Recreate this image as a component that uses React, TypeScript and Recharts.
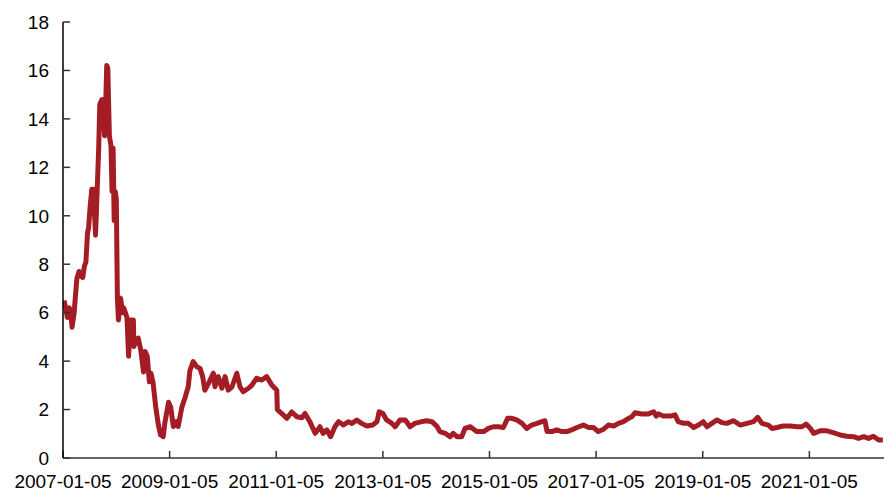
import { LineChart, Line, XAxis, YAxis } from "recharts";

// x positions are fractional years (2007.01 = 2007-01-05)
const years = [
  2007.03, 2007.07, 2007.09, 2007.13, 2007.16, 2007.18, 2007.22, 2007.24, 2007.27, 2007.31,
  2007.35, 2007.38, 2007.41, 2007.44, 2007.47, 2007.49, 2007.52, 2007.55, 2007.58, 2007.62,
  2007.65, 2007.68, 2007.7, 2007.74, 2007.77, 2007.79, 2007.81, 2007.83, 2007.85, 2007.88,
  2007.91, 2007.93, 2007.95, 2007.97, 2007.99, 2008.01, 2008.03, 2008.05, 2008.09, 2008.13,
  2008.15, 2008.21, 2008.24, 2008.28, 2008.33, 2008.34, 2008.38, 2008.42, 2008.47, 2008.52,
  2008.55, 2008.59, 2008.63, 2008.66, 2008.7, 2008.75, 2008.8, 2008.84, 2008.89, 2008.92,
  2008.99, 2009.03, 2009.08, 2009.14, 2009.17, 2009.24, 2009.3, 2009.36, 2009.39, 2009.45,
  2009.52, 2009.58, 2009.63, 2009.67, 2009.74, 2009.83, 2009.86, 2009.92, 2009.99, 2010.05,
  2010.11, 2010.18, 2010.27, 2010.33, 2010.39, 2010.49, 2010.55, 2010.64, 2010.74, 2010.83,
  2010.93, 2011.02, 2011.03, 2011.11, 2011.21, 2011.3, 2011.4, 2011.49, 2011.55, 2011.64,
  2011.74, 2011.83, 2011.89, 2011.96, 2012.03, 2012.11, 2012.18, 2012.27, 2012.36, 2012.43,
  2012.52, 2012.61, 2012.71, 2012.82, 2012.9, 2012.94, 2013.01, 2013.08, 2013.18, 2013.24,
  2013.33, 2013.43, 2013.52, 2013.61, 2013.74, 2013.83, 2013.93, 2014.02, 2014.08, 2014.18,
  2014.27, 2014.33, 2014.4, 2014.49, 2014.55, 2014.65, 2014.77, 2014.9, 2014.99, 2015.08,
  2015.18, 2015.27, 2015.35, 2015.43, 2015.52, 2015.62, 2015.71, 2015.8, 2015.9, 2015.99,
  2016.05, 2016.09, 2016.18, 2016.27, 2016.37, 2016.46, 2016.55, 2016.65, 2016.77, 2016.87,
  2016.96, 2017.05, 2017.15, 2017.24, 2017.34, 2017.43, 2017.52, 2017.62, 2017.68, 2017.74,
  2017.87, 2017.99, 2018.09, 2018.14, 2018.18, 2018.27, 2018.4, 2018.49, 2018.55, 2018.65,
  2018.74, 2018.84, 2018.93, 2019.02, 2019.09, 2019.18, 2019.28, 2019.37, 2019.46, 2019.59,
  2019.71, 2019.84, 2019.96, 2020.04, 2020.12, 2020.24, 2020.31, 2020.4, 2020.52, 2020.65,
  2020.78, 2020.87, 2020.95, 2021.03, 2021.09, 2021.21, 2021.34, 2021.46, 2021.59, 2021.71,
  2021.84, 2021.93, 2022.03, 2022.12, 2022.21, 2022.31, 2022.39,
];

const values = [
  6.5, 6.1, 5.8, 6.2, 5.9, 5.4, 6.0, 6.6, 7.4, 7.7,
  7.5, 7.45, 7.9, 8.1, 9.3, 9.5, 10.4, 11.1, 11.1, 9.2,
  11.0, 12.8, 14.6, 14.8, 14.0, 13.3, 14.5, 16.2, 16.1, 13.3,
  12.9, 11.0, 12.8, 9.8, 11.0, 10.7, 6.6, 5.7, 6.6, 6.0,
  6.2, 5.8, 4.2, 5.7, 5.7, 4.6, 4.9, 4.95, 4.45, 3.55,
  4.4, 4.2, 3.15, 3.5, 3.1, 2.1, 1.35, 0.95, 0.88, 1.44,
  2.3, 2.1, 1.3, 1.5, 1.3, 2.1, 2.5, 2.95, 3.6, 3.98,
  3.77, 3.7, 3.36, 2.8, 3.08, 3.5, 2.94, 3.36, 2.88, 3.36,
  2.8, 2.94, 3.5, 2.94, 2.74, 2.88, 3.0, 3.29, 3.22, 3.36,
  3.0, 2.8, 2.0, 1.84, 1.64, 1.9, 1.7, 1.66, 1.84, 1.5,
  1.02, 1.29, 1.02, 1.16, 0.88, 1.29, 1.5, 1.36, 1.5, 1.43,
  1.57, 1.43, 1.32, 1.36, 1.5, 1.91, 1.84, 1.57, 1.43, 1.29,
  1.57, 1.57, 1.29, 1.43, 1.5, 1.54, 1.5, 1.32, 1.09, 1.02,
  0.88, 1.02, 0.88, 0.88, 1.22, 1.29, 1.09, 1.09, 1.22, 1.29,
  1.29, 1.26, 1.64, 1.64, 1.57, 1.43, 1.22, 1.36, 1.43, 1.5,
  1.54, 1.09, 1.09, 1.16, 1.09, 1.09, 1.16, 1.26, 1.36, 1.26,
  1.26, 1.09, 1.19, 1.36, 1.32, 1.43, 1.5, 1.64, 1.7, 1.87,
  1.82, 1.82, 1.91, 1.73, 1.82, 1.73, 1.73, 1.78, 1.5, 1.43,
  1.43, 1.26, 1.36, 1.5, 1.29, 1.43, 1.57, 1.46, 1.43, 1.54,
  1.36, 1.43, 1.5, 1.68, 1.43, 1.36, 1.22, 1.26, 1.32, 1.32,
  1.29, 1.29, 1.4, 1.22, 1.02, 1.12, 1.12, 1.05, 0.95, 0.9,
  0.88, 0.81, 0.88, 0.81, 0.9, 0.74, 0.74,
];

const tickYears = [2007.01, 2009.01, 2011.01, 2013.01, 2015.01, 2017.01, 2019.01, 2021.01];
const tickLabels = [
  "2007-01-05", "2009-01-05", "2011-01-05", "2013-01-05",
  "2015-01-05", "2017-01-05", "2019-01-05", "2021-01-05",
];
const yTicks = [0, 2, 4, 6, 8, 10, 12, 14, 16, 18];

const data = years.map((t, i) => ({ t, v: values[i] }));

const font = { fontFamily: "'Liberation Sans', Arial, sans-serif", fontSize: 19, fill: "#000" };

export default function App() {
  return (
    <LineChart
      width={878}
      height={488}
      data={data}
      margin={{ top: 14, right: 2, bottom: 0, left: 0 }}
    >
      <XAxis
        dataKey="t"
        type="number"
        domain={[2007.01, 2022.41]}
        allowDataOverflow
        ticks={tickYears}
        interval={0}
        tickFormatter={(t: number) => tickLabels[tickYears.indexOf(t)] ?? ""}
        axisLine={{ stroke: "#333", strokeWidth: 1.5 }}
        tickLine={{ stroke: "#333", strokeWidth: 1.5 }}
        tickSize={-7}
        tickMargin={24}
        tick={font}
        height={38}
      />
      <YAxis
        type="number"
        domain={[0, 18]}
        ticks={yTicks}
        interval={0}
        axisLine={{ stroke: "#000", strokeWidth: 1.5 }}
        tickLine={{ stroke: "#333", strokeWidth: 1.5 }}
        tickSize={-7}
        tickMargin={21}
        tick={font}
        width={55}
      />
      <Line
        type="linear"
        dataKey="v"
        stroke="#A51D24"
        strokeWidth={5}
        strokeLinejoin="round"
        dot={false}
        isAnimationActive={false}
      />
    </LineChart>
  );
}
